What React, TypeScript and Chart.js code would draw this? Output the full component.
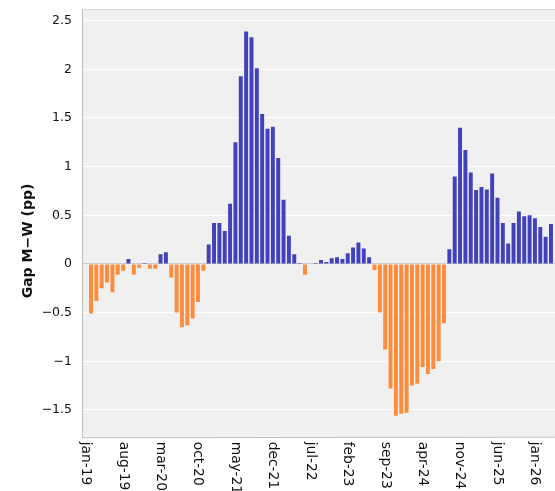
import { useEffect, useRef } from 'react';
import { Chart, registerables } from 'chart.js';

Chart.register(...registerables);

const MONTH_NAMES = ['jan', 'feb', 'mar', 'apr', 'may', 'jun', 'jul', 'aug', 'sep', 'oct', 'nov', 'dec'];
const START_YEAR = 2019;
const N_MONTHS = 89; // jan-19 .. may-26
const CATEGORIES: string[] = Array.from(
  { length: N_MONTHS },
  (_, i) => `${MONTH_NAMES[i % 12]}-${String((START_YEAR + Math.floor(i / 12)) % 100)}`
);
const TICK_LABELS = [
  'jan-19', 'aug-19', 'mar-20', 'oct-20', 'may-21', 'dec-21', 'jul-22',
  'feb-23', 'sep-23', 'apr-24', 'nov-24', 'jun-25', 'jan-26',
];

// Gap M−W (pp), monthly, feb-19 .. apr-26
const GAP_VALUES = [
  -0.51, -0.38, -0.25, -0.19, -0.29, -0.11, -0.07, 0.05, -0.11, -0.04, 0.01,
  -0.05, -0.05, 0.10, 0.12, -0.14, -0.50, -0.65, -0.63, -0.56, -0.39, -0.07,
  0.20, 0.42, 0.42, 0.34, 0.62, 1.25, 1.93, 2.39, 2.33, 2.01, 1.54, 1.39,
  1.41, 1.09, 0.66, 0.29, 0.10, 0.01, -0.11, 0.0, 0.01, 0.04, 0.02, 0.06,
  0.07, 0.05, 0.11, 0.17, 0.22, 0.16, 0.07, -0.065, -0.50, -0.88, -1.28,
  -1.56, -1.54, -1.53, -1.25, -1.23, -1.06, -1.13, -1.08, -1.00, -0.61,
  0.15, 0.90, 1.40, 1.17, 0.94, 0.76, 0.79, 0.765, 0.93, 0.68, 0.42, 0.21,
  0.42, 0.54, 0.49, 0.50, 0.47, 0.38, 0.28, 0.41,
];
const SERIES: (number | null)[] = [null, ...GAP_VALUES, null];

const Y_MIN = -1.775;
const Y_MAX = 2.62;
const Y_STEP = 0.5;
const Y_TITLE = 'Gap M\u2212W (pp)';

const POS_COLOR = '#4141bd';
const NEG_COLOR = '#ff8b3d';
const PLOT_BG = '#f0f0f0';

const CANVAS_W = 551;
const CANVAS_H = 500;

const fmt = (v: number) => (v < 0 ? '\u2212' + String(Math.abs(v)) : String(v));

const decorPlugin = {
  id: 'decor',
  beforeDraw(chart: any) {
    const { ctx, chartArea: a } = chart;
    ctx.save();
    ctx.fillStyle = PLOT_BG;
    ctx.fillRect(a.left, a.top, a.right - a.left + 4, a.bottom - a.top);
    ctx.restore();
  },
  afterDraw(chart: any) {
    const { ctx, chartArea: a } = chart;
    const xs = chart.scales.x;
    ctx.save();
    // spines
    ctx.strokeStyle = '#bdbdbd';
    ctx.lineWidth = 1;
    ctx.beginPath();
    ctx.moveTo(a.left - 0.5, a.top);
    ctx.lineTo(a.left - 0.5, a.bottom + 1);
    ctx.lineTo(a.right + 4, a.bottom + 0.5);
    ctx.stroke();
    ctx.strokeStyle = '#dcdcdc';
    ctx.beginPath();
    ctx.moveTo(a.left, a.top + 0.5);
    ctx.lineTo(a.right + 4, a.top + 0.5);
    ctx.stroke();
    // x tick labels, rotated clockwise
    ctx.fillStyle = '#111';
    ctx.font = '13.8px "DejaVu Sans"';
    ctx.textAlign = 'left';
    ctx.textBaseline = 'middle';
    TICK_LABELS.forEach((lab) => {
      const idx = CATEGORIES.indexOf(lab);
      if (idx < 0) return;
      const x = xs.getPixelForValue(idx);
      ctx.save();
      ctx.translate(x, a.bottom + 5);
      ctx.rotate(Math.PI / 2);
      ctx.fillText(lab, 0, 0);
      ctx.restore();
    });
    // y title
    ctx.font = 'bold 14px "DejaVu Sans"';
    ctx.textAlign = 'center';
    ctx.textBaseline = 'middle';
    ctx.translate(20, 233);
    ctx.rotate(-Math.PI / 2);
    ctx.fillText(Y_TITLE, 0, 0);
    ctx.restore();
  },
};

export default function App() {
  const ref = useRef<HTMLCanvasElement | null>(null);

  useEffect(() => {
    if (!ref.current) return;
    const chart = new Chart(ref.current, {
      type: 'bar',
      data: {
        labels: CATEGORIES,
        datasets: [
          {
            data: SERIES,
            backgroundColor: (c: any) => ((c.raw ?? 0) >= 0 ? POS_COLOR : NEG_COLOR),
            borderWidth: 0,
            barPercentage: 0.74,
            categoryPercentage: 1,
          },
        ],
      },
      options: {
        animation: false,
        responsive: false,
        devicePixelRatio: 1,
        layout: { padding: { top: 1, left: 0, right: 0, bottom: 0 } },
        plugins: { legend: { display: false }, tooltip: { enabled: false } },
        scales: {
          x: {
            type: 'category',
            offset: true,
            grid: { display: false },
            border: { display: false },
            ticks: { display: false },
            afterFit(s: any) {
              s.height = 71.3;
              s.paddingLeft = 0;
              s.paddingRight = 0;
            },
          },
          y: {
            min: Y_MIN,
            max: Y_MAX,
            border: { display: false },
            grid: {
              drawTicks: false,
              color: (c: any) => (c.tick && c.tick.value === 0 ? '#cccccc' : '#ffffff'),
              lineWidth: 1,
            },
            ticks: {
              stepSize: Y_STEP,
              includeBounds: false,
              padding: 11,
              color: '#111',
              font: { family: 'DejaVu Sans', size: 12.5 },
              callback: (v: any) => fmt(Number(v)),
            },
            afterFit(s: any) {
              s.width = 75;
              s.paddingTop = 0;
              s.paddingBottom = 0;
            },
          },
        },
      },
      plugins: [decorPlugin],
    });
    return () => chart.destroy();
  }, []);

  return (
    <div style={{ position: 'fixed', top: 8, left: 8, width: 547, height: 483, overflow: 'hidden' }}>
      <canvas ref={ref} width={CANVAS_W} height={CANVAS_H} style={{ display: 'block', width: CANVAS_W, height: CANVAS_H }} />
    </div>
  );
}
